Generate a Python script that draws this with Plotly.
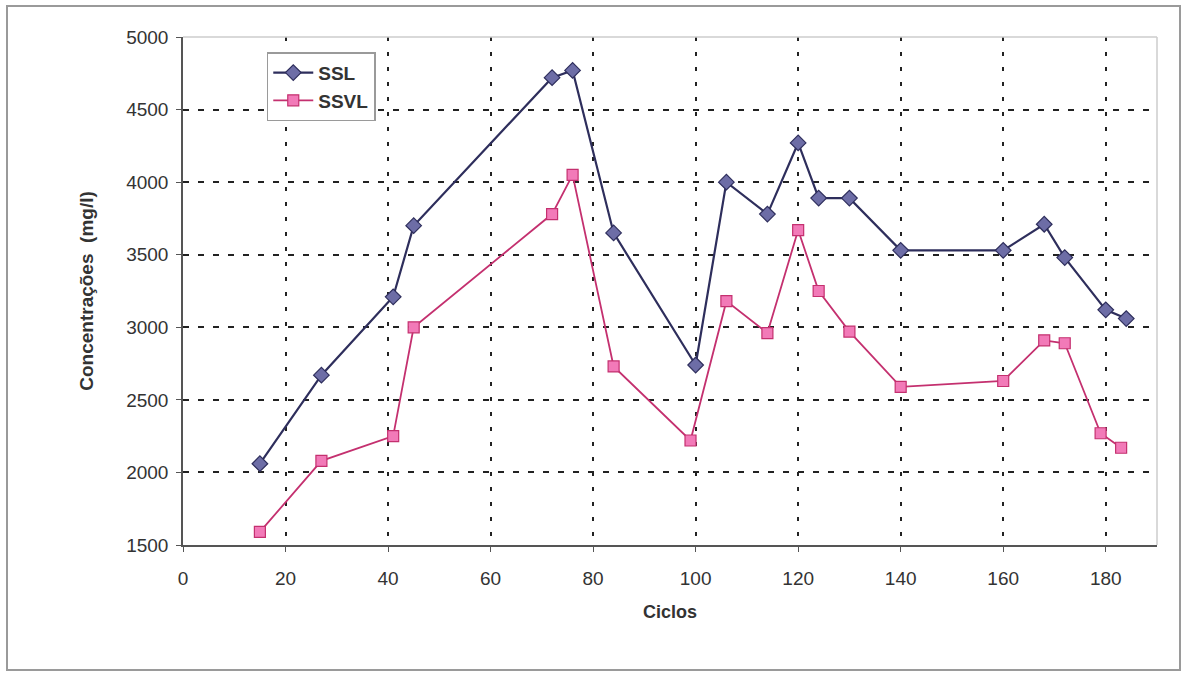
import plotly.graph_objects as go

# Cycle numbers and concentrations (mg/l)
ciclos_ssl = [15, 27, 41, 45, 72, 76, 84, 100, 106, 114, 120, 124, 130, 140, 160, 168, 172, 180, 184]
ssl = [2060, 2670, 3210, 3700, 4720, 4770, 3650, 2740, 4000, 3780, 4270, 3890, 3890, 3530, 3530, 3710, 3480, 3120, 3060]

ciclos_ssvl = [15, 27, 41, 45, 72, 76, 84, 99, 106, 114, 120, 124, 130, 140, 160, 168, 172, 179, 183]
ssvl = [1590, 2080, 2250, 3000, 3780, 4050, 2730, 2220, 3180, 2960, 3670, 3250, 2970, 2590, 2630, 2910, 2890, 2270, 2170]

x_ticks = [0, 20, 40, 60, 80, 100, 120, 140, 160, 180]
y_ticks = [1500, 2000, 2500, 3000, 3500, 4000, 4500, 5000]

FONT = "Liberation Sans, Arial, sans-serif"
TEXT = "#333333"

fig = go.Figure()
fig.add_trace(go.Scatter(
    x=ciclos_ssl, y=ssl, name="SSL", mode="lines+markers",
    line=dict(color="#2e2e5c", width=2.2),
    marker=dict(symbol="diamond", size=12, color="#6d6da6",
                line=dict(color="#2e2e5c", width=1.2)),
))
fig.add_trace(go.Scatter(
    x=ciclos_ssvl, y=ssvl, name="SSVL", mode="lines+markers",
    line=dict(color="#c4306f", width=1.8),
    marker=dict(symbol="square", size=11, color="#f27ab8",
                line=dict(color="#c4306f", width=1.2)),
))

# Top and right edges of the plot area, plus the outer chart frame
fig.add_shape(type="line", xref="paper", yref="paper", x0=0, x1=1, y0=1, y1=1,
              line=dict(color="#cccccc", width=1.5))
fig.add_shape(type="line", xref="paper", yref="paper", x0=1, x1=1, y0=0, y1=1,
              line=dict(color="#cccccc", width=1.5))
fig.add_shape(type="rect", xref="paper", yref="paper",
              x0=(7 - 183) / 974, x1=(1180 - 183) / 974,
              y0=(545 - 670) / 508, y1=(545 - 6) / 508,
              line=dict(color="#9a9a9a", width=2))

fig.update_layout(
    width=1187, height=675,
    margin=dict(l=183, r=30, t=37, b=130),
    paper_bgcolor="white", plot_bgcolor="white",
    font=dict(family=FONT, size=18, color=TEXT),
    showlegend=True,
    legend=dict(
        x=0.086, y=0.97, xanchor="left", yanchor="top",
        bgcolor="white", bordercolor="#9a9a9a", borderwidth=1.5,
        font=dict(family=FONT, size=19, color=TEXT, weight="bold"),
        tracegroupgap=0, itemwidth=40, entrywidth=118,
    ),
    xaxis=dict(
        range=[0, 190], tickvals=x_ticks, ticktext=[str(v) for v in x_ticks],
        showline=True, linecolor="#555555", linewidth=1.5,
        ticks="outside", ticklen=5, tickcolor="#555555",
        ticklabelstandoff=10,
        showgrid=True, gridcolor="#222222", gridwidth=1.8, griddash="4px,11px",
        zeroline=False,
        tickfont=dict(size=19, color=TEXT),
        title=dict(text="<b>Ciclos</b>", font=dict(size=18, color=TEXT), standoff=18),
    ),
    yaxis=dict(
        range=[1500, 5000], tickvals=y_ticks, ticktext=[str(v) for v in y_ticks],
        showline=True, linecolor="#555555", linewidth=1.5,
        ticks="outside", ticklen=5, tickcolor="#555555",
        ticklabelstandoff=4,
        showgrid=True, gridcolor="#222222", gridwidth=1.8, griddash="6px,9px",
        zeroline=False,
        tickfont=dict(size=19, color=TEXT),
        title=dict(text="<b>Concentrações  (mg/l)</b>", font=dict(size=19, color=TEXT), standoff=28),
    ),
)

fig.write_html("out.html")
